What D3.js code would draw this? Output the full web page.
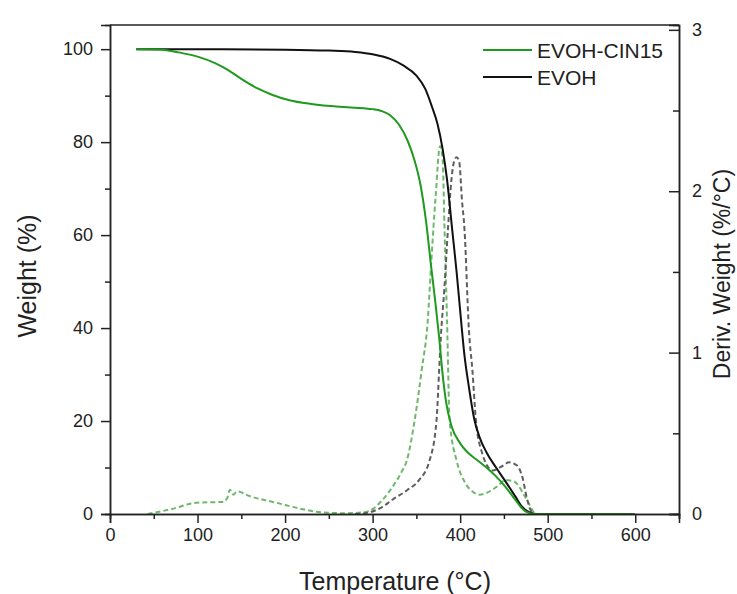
<!DOCTYPE html>
<html>
<head>
<meta charset="utf-8">
<script src="https://cdn.jsdelivr.net/npm/d3@7"></script>
<style>
  body { margin: 0; background: #fff; }
  text { font-family: "Liberation Sans", Arial, sans-serif; fill: #222; }
</style>
</head>
<body>
<div id="chart"></div>
<script>
// chart size
const width = 737;
const height = 594;
const margin = { top: 25, right: 58, bottom: 80, left: 110 };

// TGA weight curves (%)
const tempCin = [30, 60, 76, 100, 120, 135, 150, 168, 185, 205, 230, 262, 290, 300, 310, 320, 330, 340, 348, 355, 361, 367, 372, 376, 380, 384, 390, 400, 410, 420, 433, 445, 452, 460, 468, 475, 485, 500, 550, 595];
const weightCin = [100, 99.9, 99.4, 98.4, 97, 95.5, 93.6, 91.6, 90.2, 89, 88.2, 87.6, 87.3, 87.1, 86.7, 85.8, 83.8, 80.3, 76, 70.5, 63, 53, 45, 38, 30, 24, 19, 15.2, 13, 11.5, 9.5, 7.3, 5.8, 3.8, 1.8, 0.5, 0, 0, 0, 0];

const tempEvoh = [30, 100, 200, 250, 280, 300, 320, 335, 350, 360, 368, 374, 380, 385, 391, 396, 401, 405, 410, 416, 422, 430, 441, 450, 456, 463, 471, 480, 488, 500, 550, 595];
const weightEvoh = [100, 100, 99.9, 99.7, 99.4, 98.9, 97.9, 96.5, 94.3, 91.5, 87.5, 84, 78.5, 72, 61, 52, 41.7, 34, 27.3, 20.5, 16.6, 13.3, 10, 7.5, 5.8, 3.8, 1.5, 0.3, 0, 0, 0, 0];

// DTG curves (%/°C)
const dTempCin = [43, 70, 99, 129, 134, 137, 141, 145, 160, 190, 220, 243, 270, 289, 300, 310, 323, 333, 339, 348, 356, 363, 367, 372, 377, 380, 382, 385, 388, 396, 405, 414, 422, 430, 442, 452, 462, 475, 487, 500, 550, 600];
const derivCin = [0, 0.03, 0.07, 0.075, 0.1, 0.15, 0.12, 0.14, 0.11, 0.07, 0.03, 0.01, 0.005, 0.01, 0.03, 0.08, 0.17, 0.26, 0.33, 0.58, 0.89, 1.2, 1.56, 1.97, 2.28, 2.2, 1.8, 1.2, 0.58, 0.33, 0.2, 0.14, 0.12, 0.13, 0.17, 0.21, 0.2, 0.1, 0, 0, 0, 0];

const dTempEvoh = [280, 296, 310, 323, 340, 353, 365, 373, 376, 378, 382, 386, 390, 394, 396, 399, 402, 405, 410, 414, 418, 425, 437, 446, 456, 465, 471, 477, 484, 500, 550, 600];
const derivEvoh = [0, 0.01, 0.04, 0.09, 0.15, 0.21, 0.33, 0.58, 0.89, 1.1, 1.4, 1.76, 2.07, 2.2, 2.21, 2.18, 1.95, 1.76, 1.14, 0.89, 0.58, 0.38, 0.27, 0.29, 0.32, 0.3, 0.23, 0.08, 0, 0, 0, 0];

// legend labels
const legendNames = ["EVOH-CIN15", "EVOH"];

const green = "#1f9a1f";
const greenDash = "#6db86d";
const greyDash = "#5e5e5e";

const svg = d3.select("#chart").append("svg").attr("width", width).attr("height", height);

// scales
const x = d3.scaleLinear().domain([0, 650]).range([margin.left, width - margin.right]);
const yW = d3.scaleLinear().domain([0, 105.2]).range([height - margin.bottom, margin.top]);
const yD = d3.scaleLinear().domain([0, 3.03]).range([height - margin.bottom, margin.top]);

const zip = (a, b) => a.map((t, i) => [t, b[i]]);

const lineW = d3.line().x(d => x(d[0])).y(d => yW(d[1])).curve(d3.curveMonotoneX);
const lineD = d3.line().x(d => x(d[0])).y(d => yD(d[1])).curve(d3.curveMonotoneX);

// derivative curves (dashed) under the weight curves
svg.append("path").datum(zip(dTempCin, derivCin)).attr("d", lineD)
  .attr("fill", "none").attr("stroke", greenDash).attr("stroke-width", 2).attr("stroke-dasharray", "5,3");
svg.append("path").datum(zip(dTempEvoh, derivEvoh)).attr("d", lineD)
  .attr("fill", "none").attr("stroke", greyDash).attr("stroke-width", 2).attr("stroke-dasharray", "5,3");

// weight curves
svg.append("path").datum(zip(tempEvoh, weightEvoh)).attr("d", lineW)
  .attr("fill", "none").attr("stroke", "#111").attr("stroke-width", 2);
svg.append("path").datum(zip(tempCin, weightCin)).attr("d", lineW)
  .attr("fill", "none").attr("stroke", green).attr("stroke-width", 2);

// axes
const axisStyle = g => {
  g.selectAll(".domain").attr("stroke", "#222").attr("stroke-width", 1.5);
  g.selectAll(".tick line").attr("stroke", "#222").attr("stroke-width", 1.5);
  g.selectAll("text").style("font-size", "18px").attr("fill", "#222");
};

// bottom axis: major + minor
svg.append("g").attr("transform", `translate(0, ${height - margin.bottom})`)
  .call(d3.axisBottom(x).tickValues(d3.range(50, 700, 100)).tickSize(5).tickFormat(""))
  .call(axisStyle);
svg.append("g").attr("transform", `translate(0, ${height - margin.bottom})`)
  .call(d3.axisBottom(x).tickValues(d3.range(0, 700, 100)).tickSize(9).tickPadding(5))
  .call(axisStyle);

// left axis
svg.append("g").attr("transform", `translate(${margin.left}, 0)`)
  .call(d3.axisLeft(yW).tickValues(d3.range(10, 100, 20)).tickSize(5).tickFormat(""))
  .call(axisStyle);
svg.append("g").attr("transform", `translate(${margin.left}, 0)`)
  .call(d3.axisLeft(yW).tickValues(d3.range(0, 101, 20)).tickSize(9).tickPadding(8))
  .call(axisStyle);

// right axis, ticks pointing inward
svg.append("g").attr("transform", `translate(${width - margin.right}, 0)`)
  .call(d3.axisRight(yD).tickValues([0.5, 1.5, 2.5]).tickSize(-6).tickFormat(""))
  .call(axisStyle);
svg.append("g").attr("transform", `translate(${width - margin.right}, 0)`)
  .call(d3.axisRight(yD).tickValues([0, 1, 2, 3]).tickSize(-10).tickPadding(13).tickFormat(d3.format("d")))
  .call(axisStyle);

// top frame line
svg.append("line").attr("x1", margin.left).attr("x2", width - margin.right)
  .attr("y1", margin.top).attr("y2", margin.top).attr("stroke", "#222").attr("stroke-width", 1.5);

// axis titles
svg.append("text").attr("x", 395).attr("y", 590)
  .attr("text-anchor", "middle").style("font-size", "25px").text("Temperature (°C)");
svg.append("text").attr("transform", `translate(36, 276) rotate(-90)`)
  .attr("text-anchor", "middle").style("font-size", "25px").text("Weight (%)");
svg.append("text").attr("transform", `translate(730, 274) rotate(-90)`)
  .attr("text-anchor", "middle").style("font-size", "23px").text("Deriv. Weight (%/°C)");

// legend
const legend = svg.append("g").attr("transform", "translate(483, 50)");
legendNames.forEach((name, i) => {
  const row = legend.append("g").attr("transform", `translate(0, ${i * 27})`);
  row.append("line").attr("x1", 0).attr("x2", 49).attr("stroke", i === 0 ? green : "#111").attr("stroke-width", 2);
  row.append("text").attr("x", 54).attr("y", 7.5).style("font-size", "21px").text(name);
});
</script>
</body>
</html>
